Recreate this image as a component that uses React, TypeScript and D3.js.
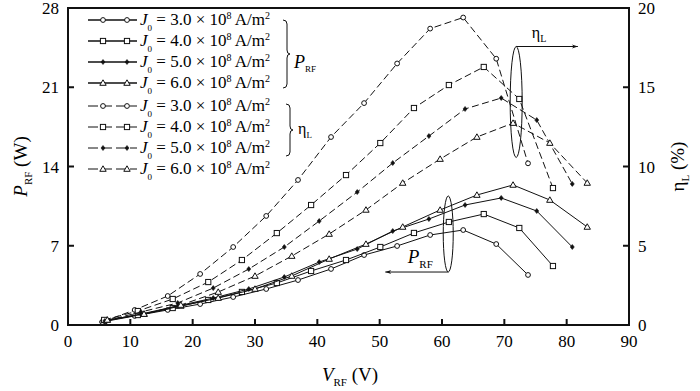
import React from "react";
import * as d3 from "d3";

// ---- data ----
const V30 = [5.5, 10.7, 16.0, 21.2, 26.5, 31.8, 36.9, 42.2, 47.5, 52.8, 58.1, 63.4, 68.7, 73.8];
const P30 = [0.27, 0.8, 1.33, 1.85, 2.47, 3.18, 3.97, 4.95, 6.18, 6.98, 7.95, 8.39, 7.15, 4.42];
const Eta30 = [0.19, 0.95, 1.83, 3.22, 4.92, 6.88, 9.15, 11.86, 14.0, 16.5, 18.7, 19.4, 16.8, 10.2];

const V40 = [5.8, 11.2, 16.8, 22.5, 27.9, 33.5, 39.0, 44.6, 50.1, 55.5, 61.1, 66.7, 72.4, 77.8];
const P40 = [0.35, 0.88, 1.5, 2.21, 2.92, 3.71, 4.77, 5.74, 6.89, 8.13, 9.1, 9.8, 8.57, 5.21];
const Eta40 = [0.32, 0.88, 1.64, 2.71, 4.1, 5.8, 7.57, 9.46, 11.48, 13.69, 15.14, 16.28, 14.26, 8.64];

const V50 = [5.9, 11.7, 17.6, 23.3, 29.0, 34.7, 40.3, 46.4, 52.1, 57.9, 63.7, 69.5, 75.2, 80.9];
const P50 = [0.35, 0.97, 1.68, 2.38, 3.18, 4.24, 5.56, 6.71, 8.3, 9.36, 10.6, 11.22, 10.07, 6.89];
const Eta50 = [0.25, 0.82, 1.39, 2.33, 3.53, 4.92, 6.56, 8.39, 10.22, 11.92, 13.63, 14.32, 12.93, 8.9];

const V60 = [6.3, 12.2, 18.1, 24.1, 30.0, 35.9, 41.9, 47.8, 53.7, 59.7, 65.6, 71.4, 77.3, 83.3];
const P60 = [0.44, 0.97, 1.68, 2.38, 3.18, 4.33, 5.83, 7.15, 8.66, 10.16, 11.48, 12.37, 11.04, 8.66];
const Eta60 = [0.32, 0.69, 1.26, 2.08, 3.09, 4.35, 5.74, 7.26, 8.96, 10.47, 11.86, 12.74, 11.48, 8.96];

const J0Labels = ["3.0", "4.0", "5.0", "6.0"];
const markerTypes = ["circle", "square", "diamond", "triangle"];
const xTicks = [0, 10, 20, 30, 40, 50, 60, 70, 80, 90];
const yLeftTicks = [0, 7, 14, 21, 28];
const yRightTicks = [0, 5, 10, 15, 20];

const FONT = "'Liberation Serif', 'DejaVu Serif', serif";

const L = 68, R = 629, T = 8, B = 325;
const x = d3.scaleLinear().domain([0, 90]).range([L, R]);
const yL = d3.scaleLinear().domain([0, 28]).range([B, T]);
const yR = d3.scaleLinear().domain([0, 20]).range([B, T]);

function Marker({ type, cx, cy }: { type: string; cx: number; cy: number }) {
  const st = { stroke: "#111", strokeWidth: 1, fill: "#fff" };
  if (type === "circle") return <circle cx={cx} cy={cy} r={2.4} {...st} />;
  if (type === "square") return <rect x={cx - 2.6} y={cy - 2.6} width={5.2} height={5.2} {...st} />;
  if (type === "diamond")
    return <path d={`M${cx},${cy - 2.5}L${cx + 2},${cy}L${cx},${cy + 2.5}L${cx - 2},${cy}Z`} fill="#111" stroke="#111" strokeWidth={0.6} />;
  return <path d={`M${cx},${cy - 3.2}L${cx + 3.2},${cy + 2.3}L${cx - 3.2},${cy + 2.3}Z`} {...st} />;
}

function Series({ xs, ys, scaleY, type, dashed }: { xs: number[]; ys: number[]; scaleY: any; type: string; dashed: boolean }) {
  const pts: [number, number][] = xs.map((v, i) => [x(v), scaleY(ys[i])]);
  const line = d3.line();
  return (
    <g>
      <path d={line(pts) || ""} fill="none" stroke="#111" strokeWidth={1} strokeDasharray={dashed ? "7,3.5" : undefined} />
      {pts.map((p, i) => (
        <Marker key={i} type={type} cx={p[0]} cy={p[1]} />
      ))}
    </g>
  );
}

function Brace({ x0, y0, y1 }: { x0: number; y0: number; y1: number }) {
  const ym = (y0 + y1) / 2;
  const w = 4;
  const d = `M${x0},${y0} Q${x0 + w},${y0} ${x0 + w},${y0 + 4} L${x0 + w},${ym - 4} Q${x0 + w},${ym} ${x0 + w + 3},${ym} Q${x0 + w},${ym} ${x0 + w},${ym + 4} L${x0 + w},${y1 - 4} Q${x0 + w},${y1} ${x0},${y1}`;
  return <path d={d} fill="none" stroke="#111" strokeWidth={1} />;
}

export default function App() {
  const pSeries = [
    [V30, P30],
    [V40, P40],
    [V50, P50],
    [V60, P60],
  ];
  const eSeries = [
    [V30, Eta30],
    [V40, Eta40],
    [V50, Eta50],
    [V60, Eta60],
  ];
  const legendRows = [...J0Labels.map((l, i) => ({ l, t: markerTypes[i], dashed: false })), ...J0Labels.map((l, i) => ({ l, t: markerTypes[i], dashed: true }))];
  const legY = [20, 41, 62, 83, 106, 127, 148, 169];

  // annotation anchors (data coords)
  const etaEll = { cx: x(71.9), cy: yR(14.07), rx: 6, ry: yR(0) - yR(3.5) };
  const pEll = { cx: x(61.0), cy: yL(8.04), rx: 5, ry: yL(0) - yL(3.36) };

  return (
    <svg width={700} height={391} style={{ position: "absolute", left: 0, top: 0, background: "#fff" }} fontFamily={FONT}>
      <defs>
        <marker id="arr" viewBox="0 0 10 10" refX="10" refY="5" markerWidth="10" markerHeight="6" orient="auto-start-reverse" markerUnits="userSpaceOnUse">
          <path d="M0,1.5 L10,5 L0,8.5 L3,5 Z" fill="#111" />
        </marker>
      </defs>
      <rect x={0} y={0} width={700} height={391} fill="#fff" />

      {/* curves */}
      {pSeries.map((s, i) => (
        <Series key={"p" + i} xs={s[0]} ys={s[1]} scaleY={yL} type={markerTypes[i]} dashed={false} />
      ))}
      {eSeries.map((s, i) => (
        <Series key={"e" + i} xs={s[0]} ys={s[1]} scaleY={yR} type={markerTypes[i]} dashed={true} />
      ))}

      {/* annotations */}
      <ellipse cx={etaEll.cx} cy={etaEll.cy} rx={etaEll.rx} ry={etaEll.ry} fill="none" stroke="#111" strokeWidth={1} />
      <line x1={etaEll.cx} y1={etaEll.cy - etaEll.ry} x2={x(81.8)} y2={etaEll.cy - etaEll.ry} stroke="#111" strokeWidth={1} markerEnd="url(#arr)" />
      <text x={x(74.4)} y={etaEll.cy - etaEll.ry - 9} fontSize={16}>
        η<tspan fontSize={10} dy={4}>L</tspan>
      </text>
      <ellipse cx={pEll.cx} cy={pEll.cy} rx={pEll.rx} ry={pEll.ry} fill="none" stroke="#111" strokeWidth={1} />
      <line x1={pEll.cx} y1={pEll.cy + pEll.ry} x2={x(50.9)} y2={pEll.cy + pEll.ry} stroke="#111" strokeWidth={1} markerEnd="url(#arr)" />
      <text x={x(54.5)} y={pEll.cy + pEll.ry - 9} fontSize={19} fontStyle="italic">
        P<tspan fontSize={11} fontStyle="normal" dy={5}>RF</tspan>
      </text>

      {/* legend */}
      {legendRows.map((r, i) => (
        <g key={"lg" + i}>
          <line x1={88} x2={137} y1={legY[i]} y2={legY[i]} stroke="#111" strokeWidth={r.dashed ? 1 : 1.6} strokeDasharray={r.dashed ? "10,4" : undefined} />
          <Marker type={r.t} cx={103} cy={legY[i]} />
          <Marker type={r.t} cx={127} cy={legY[i]} />
          <text x={140} y={legY[i] + 5} fontSize={17}>
            <tspan fontStyle="italic">J</tspan>
            <tspan fontSize={9} dy={6}>0</tspan>
            <tspan dy={-6}>{` = ${r.l} × 10`}</tspan>
            <tspan fontSize={10} dy={-6}>8</tspan>
            <tspan dy={6}> A/m</tspan>
            <tspan fontSize={10} dy={-6}>2</tspan>
          </text>
        </g>
      ))}
      <Brace x0={283} y0={20} y1={88} />
      <text x={294} y={68} fontSize={18} fontStyle="italic">
        P<tspan fontSize={9} fontStyle="normal" dy={4}>RF</tspan>
      </text>
      <Brace x0={286} y0={104} y1={156} />
      <text x={298} y={134} fontSize={16}>
        η<tspan fontSize={9} dy={4}>L</tspan>
      </text>

      {/* frame */}
      <rect x={L} y={T} width={R - L} height={B - T} fill="none" stroke="#111" strokeWidth={2} />
      {xTicks.map((t) => (
        <g key={"xt" + t}>
          <line x1={x(t)} x2={x(t)} y1={B} y2={B - 6} stroke="#111" strokeWidth={2} />
          <text x={x(t)} y={347} fontSize={17} textAnchor="middle">
            {t}
          </text>
        </g>
      ))}
      {yLeftTicks.map((t) => (
        <g key={"yl" + t}>
          <line x1={L} x2={L + 6} y1={yL(t)} y2={yL(t)} stroke="#111" strokeWidth={2} />
          <text x={L - 9} y={yL(t) + 6} fontSize={17} textAnchor="end">
            {t}
          </text>
        </g>
      ))}
      {yRightTicks.map((t) => (
        <g key={"yr" + t}>
          <line x1={R} x2={R - 6} y1={yR(t)} y2={yR(t)} stroke="#111" strokeWidth={2} />
          <text x={R + 9} y={yR(t) + 6} fontSize={17} textAnchor="start">
            {t}
          </text>
        </g>
      ))}

      {/* axis titles */}
      <text x={350} y={381} fontSize={19} textAnchor="middle">
        <tspan fontStyle="italic">V</tspan>
        <tspan fontSize={11} dy={5}>RF</tspan>
        <tspan dy={-5}> (V)</tspan>
      </text>
      <text transform={`translate(27,${(T + B) / 2}) rotate(-90)`} fontSize={19} textAnchor="middle">
        <tspan fontStyle="italic">P</tspan>
        <tspan fontSize={11} dy={5}>RF</tspan>
        <tspan dy={-5}> (W)</tspan>
      </text>
      <text transform={`translate(684,${(T + B) / 2}) rotate(-90)`} fontSize={19} textAnchor="middle">
        η<tspan fontSize={11} dy={5}>L</tspan>
        <tspan dy={-5}> (%)</tspan>
      </text>
    </svg>
  );
}
